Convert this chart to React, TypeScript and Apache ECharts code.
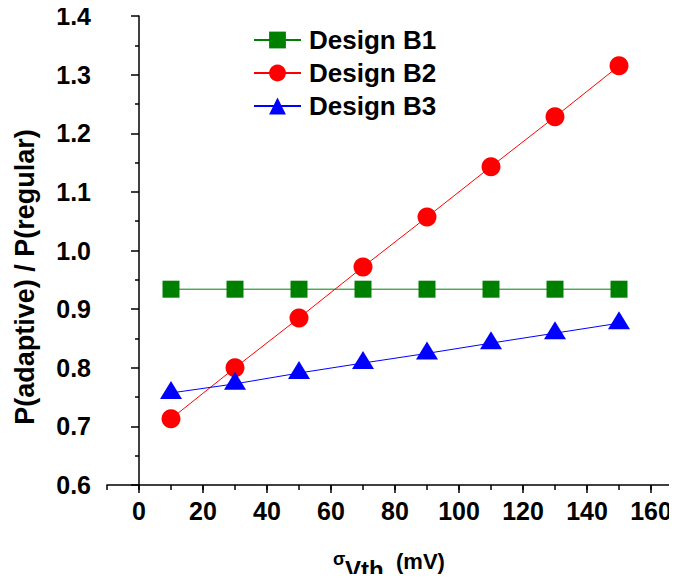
import React, { useEffect, useRef } from "react";
import * as echarts from "echarts";

const xValues = [10, 30, 50, 70, 90, 110, 130, 150];
const designB1 = [0.934, 0.934, 0.934, 0.934, 0.934, 0.934, 0.934, 0.934];
const designB2 = [0.713, 0.8, 0.885, 0.972, 1.057, 1.143, 1.228, 1.315];
const designB3 = [0.757, 0.7725, 0.791, 0.808, 0.8245, 0.842, 0.859, 0.876];
const xMajorTicks = [0, 20, 40, 60, 80, 100, 120, 140, 160];
const seriesNames = ["Design B1", "Design B2", "Design B3"];
const yTitle = "P(adaptive) / P(regular)";

const FONT = 'Arial, "Liberation Sans", sans-serif';

export default function App() {
  const ref = useRef<HTMLDivElement>(null);
  useEffect(() => {
    if (!ref.current) return;
    const chart = echarts.init(ref.current, null, { renderer: "svg" });
    const pair = (ys: number[]) => xValues.map((x, i) => [x, ys[i]]);
    const gridRect = { left: 107, right: -6, top: 16, bottom: 97, outerBoundsMode: "none" };
    const axisLineStyle = { color: "#000", width: 1.5 };
    chart.setOption({
      animation: false,
      backgroundColor: "#fff",
      textStyle: { fontFamily: FONT },
      grid: [{ ...gridRect }, { ...gridRect }],
      xAxis: [
        {
          type: "value",
          gridIndex: 0,
          min: -10,
          max: 170,
          interval: 10,
          axisLine: { show: true, lineStyle: axisLineStyle },
          axisTick: { show: true, length: 5, lineStyle: axisLineStyle },
          axisLabel: { show: false },
          splitLine: { show: false },
        },
        {
          type: "value",
          gridIndex: 1,
          min: -10,
          max: 170,
          interval: 10,
          axisLine: { show: false },
          axisTick: { show: true, length: 8, lineStyle: axisLineStyle, customValues: xMajorTicks },
          axisLabel: {
            show: true,
            customValues: xMajorTicks,
            margin: 13,
            fontSize: 25,
            fontWeight: "bold",
            color: "#000",
            fontFamily: FONT,
          },
          splitLine: { show: false },
        },
      ],
      yAxis: [
        {
          type: "value",
          gridIndex: 0,
          min: 0.6,
          max: 1.4,
          interval: 0.1,
          axisLine: { show: true, lineStyle: axisLineStyle },
          axisTick: { show: true, length: 8, lineStyle: axisLineStyle },
          minorTick: { show: true, splitNumber: 2, length: 4, lineStyle: axisLineStyle },
          axisLabel: {
            margin: 16,
            fontSize: 25,
            fontWeight: "bold",
            color: "#000",
            fontFamily: FONT,
            formatter: (v: number) => v.toFixed(1),
          },
          splitLine: { show: false },
        },
        {
          type: "value",
          gridIndex: 1,
          min: 0.6,
          max: 1.4,
          show: false,
        },
      ],
      legend: {
        data: seriesNames,
        orient: "vertical",
        left: 253,
        top: 27,
        padding: 0,
        itemWidth: 47,
        itemHeight: 21,
        itemGap: 7,
        textStyle: {
          fontSize: 26,
          fontWeight: "bold",
          color: "#000",
          fontFamily: FONT,
          padding: [0, 0, 0, 3],
        },
      },
      series: [
        {
          name: seriesNames[0],
          type: "line",
          data: pair(designB1),
          symbol: "rect",
          symbolSize: 17,
          color: "#008000",
          lineStyle: { color: "#008000", width: 1 },
          itemStyle: { color: "#008000" },
        },
        {
          name: seriesNames[1],
          type: "line",
          data: pair(designB2),
          symbol: "circle",
          symbolSize: 19,
          color: "#ff0000",
          lineStyle: { color: "#ff0000", width: 1 },
          itemStyle: { color: "#ff0000" },
        },
        {
          name: seriesNames[2],
          type: "line",
          data: pair(designB3),
          symbol: "triangle",
          symbolSize: [22, 18],
          symbolOffset: [0, -3],
          color: "#0000ff",
          lineStyle: { color: "#0000ff", width: 1 },
          itemStyle: { color: "#0000ff" },
        },
      ],
      graphic: [
        {
          type: "text",
          x: 25,
          y: 277,
          rotation: Math.PI / 2,
          style: {
            text: yTitle,
            fontSize: 27,
            fontWeight: "bold",
            fontFamily: FONT,
            fill: "#000",
            align: "center",
            verticalAlign: "middle",
          },
        },
        {
          type: "text",
          x: 333,
          y: 559,
          style: {
            text: "σ",
            fontSize: 18,
            fontWeight: "bold",
            fontFamily: FONT,
            fill: "#000",
            align: "left",
            verticalAlign: "middle",
          },
        },
        {
          type: "text",
          x: 345,
          y: 569,
          style: {
            text: "Vth",
            fontSize: 24,
            fontWeight: "bold",
            fontFamily: FONT,
            fill: "#000",
            align: "left",
            verticalAlign: "middle",
          },
        },
        {
          type: "text",
          x: 396,
          y: 561,
          style: {
            text: "(mV)",
            fontSize: 22,
            fontWeight: "bold",
            fontFamily: FONT,
            fill: "#000",
            align: "left",
            verticalAlign: "middle",
          },
        },
      ],
    });
    return () => chart.dispose();
  }, []);
  return <div ref={ref} style={{ width: 677, height: 582, margin: -8 }} />;
}
